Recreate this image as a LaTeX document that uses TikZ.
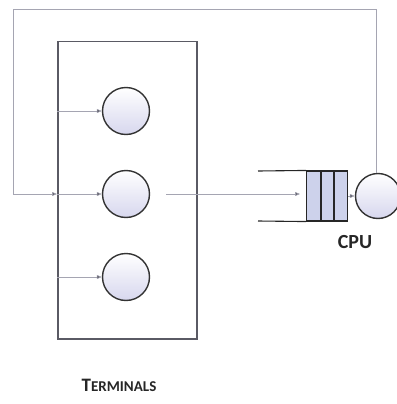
\documentclass[tikz,border=0pt]{standalone}
\usepackage{fontspec}
\setmainfont{Carlito}
\usetikzlibrary{arrows.meta}
\definecolor{boxgray}{RGB}{90,90,100}
\definecolor{thin}{RGB}{165,165,178}
\definecolor{circfill}{RGB}{215,215,238}
\definecolor{qfill}{RGB}{205,210,235}
\begin{document}
\begin{tikzpicture}[x=1pt,y=-1pt,
  term/.style={circle,draw=black!80,line width=1.4pt,minimum size=47pt,inner sep=0pt,
    top color=white,bottom color=circfill},
  thinline/.style={draw=thin,line width=0.6pt},
  arr/.style={thinline,-{Triangle[length=5pt,width=4pt,fill=boxgray]}},
  lbl/.style={font=\bfseries,text=black!85}]
\useasboundingbox (0,0) rectangle (396,404);
\node[draw=boxgray,line width=1.5pt,minimum width=139pt,minimum height=297pt,inner sep=0pt,anchor=north west] (box) at (57,41) {};
\node[term] (t1) at (126,111) {};
\node[term] (t2) at (126,194) {};
\node[term] (t3) at (126,277) {};
% queue
\node[draw=black!85,line width=1.1pt,fill=qfill,minimum width=41pt,minimum height=50pt,inner sep=0pt,anchor=west] (q) at (306,196) {};
\draw[black!85,line width=1.1pt] (321,171) -- (321,221) (334,171) -- (334,221);
\coordinate (qt) at (258,171);
\coordinate (qb) at (258,221);
\draw[black!85,line width=1.1pt] (qt) -- (q.north west) (qb) -- (q.south west);
\node[term,minimum size=45pt] (cpu) at (378,196) {};
% connectors
\coordinate (c1) at (376,9);
\coordinate (c2) at (13,9);
\coordinate (c3) at (13,194);
\coordinate (o2) at (166,194);
\draw[thinline] (cpu.north -| c1) -- (c1) -- (c2) -- (c3);
\draw[arr] (c3) -- (box.west |- c3);
\draw[arr] (box.west |- t1) -- (t1.west);
\draw[arr] (box.west |- t2) -- (t2.west);
\draw[arr] (box.west |- t3) -- (t3.west);
\draw[arr] (o2) -- (300,194);
\draw[arr] (q.east) -- (cpu.west);
\node[lbl,font=\bfseries\fontsize{20}{22}\selectfont] (cpul) at (355,242) {CPU};
\node[lbl] (tl) at (119,385) {{\fontsize{19}{21}\selectfont T}{\fontsize{15}{17}\selectfont ERMINALS}};
\end{tikzpicture}
\end{document}
